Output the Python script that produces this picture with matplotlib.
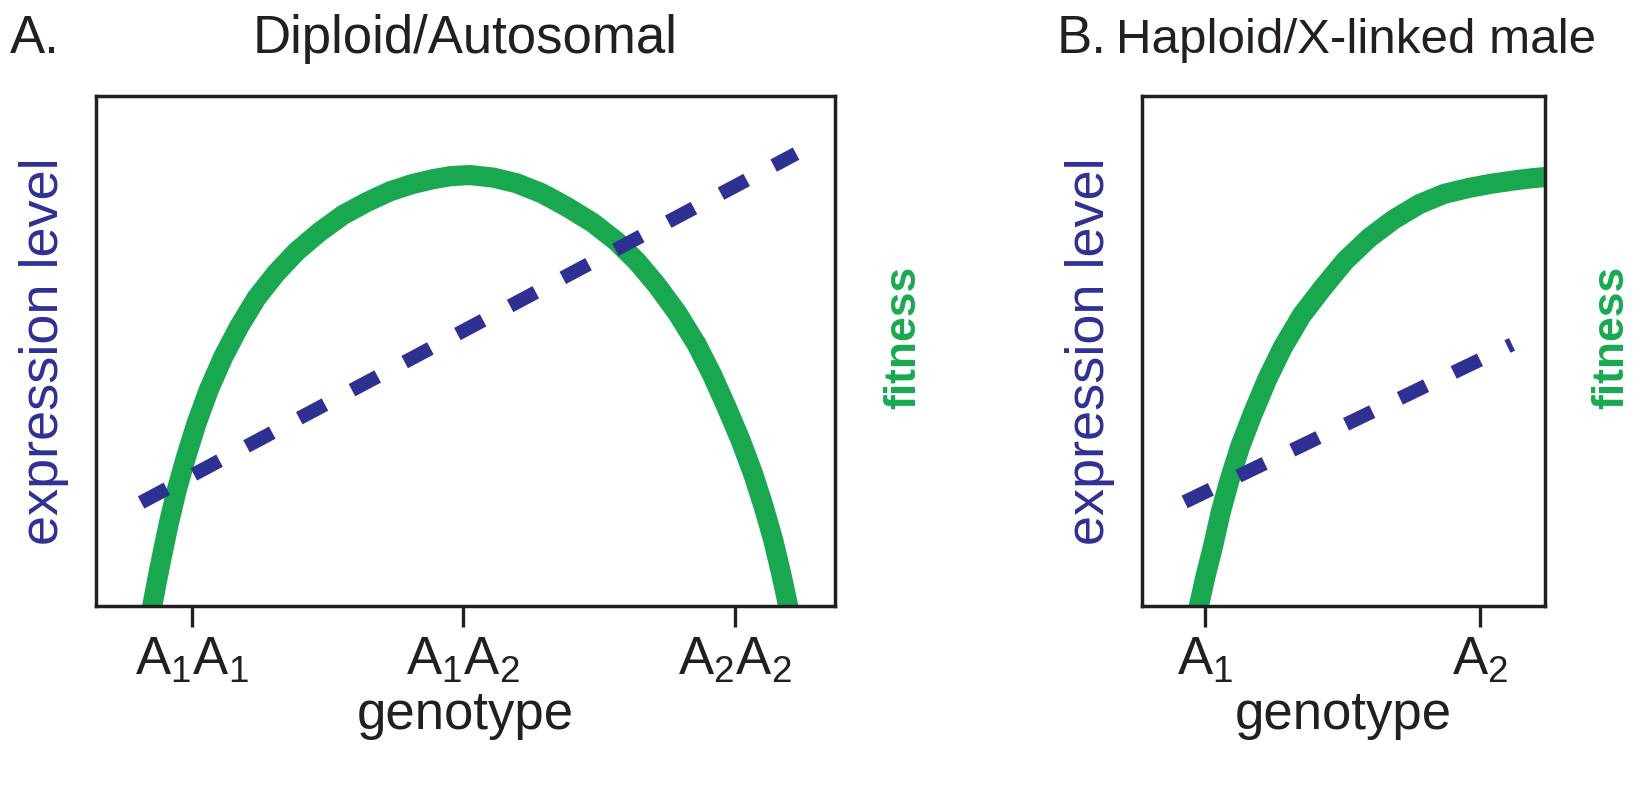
import matplotlib
matplotlib.use('Agg')
import matplotlib.pyplot as plt

# genotype positions: 0 = A1A1 / A1, 1 = A1A2 / A2, 2 = A2A2
ticks_a = [0, 1, 2]
labels_a = [r'$\mathregular{A_1A_1}$', r'$\mathregular{A_1A_2}$', r'$\mathregular{A_2A_2}$']
ticks_b = [0, 1]
labels_b = [r'$\mathregular{A_1}$', r'$\mathregular{A_2}$']

# panel A, fitness curve
fit_a_x = [-0.150, -0.145, -0.128, -0.110, -0.084, -0.055, -0.020, 0.018, 0.064, 0.116,
           0.175, 0.239, 0.310, 0.386, 0.470, 0.558, 0.645, 0.730, 0.810, 0.889,
           0.955, 1.024, 1.110, 1.196, 1.290, 1.380, 1.475, 1.564, 1.640, 1.711,
           1.787, 1.859, 1.917, 1.969, 2.020, 2.067, 2.106, 2.141, 2.170, 2.196, 2.200]
fit_a_y = [-0.030, 0.000, 0.048, 0.096, 0.162, 0.227, 0.293, 0.358, 0.425, 0.488,
           0.548, 0.604, 0.652, 0.695, 0.733, 0.767, 0.792, 0.813, 0.827, 0.837,
           0.843, 0.845, 0.840, 0.829, 0.809, 0.783, 0.752, 0.715, 0.675, 0.630,
           0.575, 0.513, 0.452, 0.390, 0.326, 0.259, 0.194, 0.129, 0.064, 0.000, -0.030]
# panel A, expression level
expr_a_x = [-0.186, 2.225]
expr_a_y = [0.203, 0.887]

# panel B, fitness curve
fit_b_x = [-0.030, -0.024, 0.000, 0.027, 0.055, 0.087, 0.127, 0.172, 0.224, 0.281,
           0.350, 0.427, 0.508, 0.596, 0.685, 0.778, 0.868, 0.960, 1.040, 1.117,
           1.175, 1.233, 1.270]
fit_b_y = [-0.030, 0.000, 0.058, 0.116, 0.183, 0.246, 0.314, 0.377, 0.444, 0.507,
           0.570, 0.624, 0.677, 0.722, 0.758, 0.788, 0.808, 0.820, 0.828, 0.834,
           0.838, 0.841, 0.843]
# panel B, expression level
expr_b_x = [-0.076, 1.115]
expr_b_y = [0.204, 0.513]

GREEN = '#19a84f'
BLUE = '#2e3192'
INK = '#231f20'

plt.rcParams['font.family'] = ['Liberation Sans', 'DejaVu Sans']
plt.rcParams['mathtext.default'] = 'regular'
plt.rcParams['text.color'] = INK

fig = plt.figure(figsize=(16.41, 8), dpi=100)
ax_a = fig.add_axes([0.0585, 0.2425, 0.4503, 0.6375])
ax_b = fig.add_axes([0.6959, 0.2425, 0.2456, 0.6375])


def style_axes(ax, ticks, labels, xlim):
    ax.set_xlim(*xlim)
    ax.set_ylim(0, 1)
    ax.set_yticks([])
    ax.set_xticks(ticks)
    ax.set_xticklabels(labels, fontsize=38, color=INK)
    ax.tick_params(axis='x', direction='out', length=15, width=2.4, color=INK, pad=6)
    for s in ax.spines.values():
        s.set_linewidth(2.5)
        s.set_color(INK)
    ax.text(0.5, -0.241, 'genotype', transform=ax.transAxes, ha='center', va='baseline',
            fontsize=38, color=INK)


def draw_panel(ax, fx, fy, ex, ey):
    ax.plot(fx, fy, color=GREEN, lw=14.5, solid_capstyle='butt', solid_joinstyle='round')
    ax.plot(ex, ey, color=BLUE, lw=10, linestyle=(0, (2.1, 2.2)), dash_capstyle='butt')


draw_panel(ax_a, fit_a_x, fit_a_y, expr_a_x, expr_a_y)
style_axes(ax_a, ticks_a, labels_a, (-0.352, 2.368))
draw_panel(ax_b, fit_b_x, fit_b_y, expr_b_x, expr_b_y)
style_axes(ax_b, ticks_b, labels_b, (-0.231, 1.235))

ax_a.text(-0.071, 0.5, 'expression level', transform=ax_a.transAxes, rotation=90,
          ha='center', va='center', fontsize=39, color=BLUE)
ax_a.text(1.093, 0.526, 'fitness', transform=ax_a.transAxes, rotation=90,
          ha='center', va='center', fontsize=32, fontweight='bold', color=GREEN)
ax_b.text(-0.130, 0.5, 'expression level', transform=ax_b.transAxes, rotation=90,
          ha='center', va='center', fontsize=39, color=BLUE)
ax_b.text(1.166, 0.526, 'fitness', transform=ax_b.transAxes, rotation=90,
          ha='center', va='center', fontsize=32, fontweight='bold', color=GREEN)

fig.text(10 / 1641, 1 - 53 / 800, 'A.', ha='left', va='baseline', fontsize=38)
fig.text(465 / 1641, 1 - 53 / 800, 'Diploid/Autosomal', ha='center', va='baseline', fontsize=38)
fig.text(1057 / 1641, 1 - 53 / 800, 'B.', ha='left', va='baseline', fontsize=38)
fig.text(1116 / 1641, 1 - 53 / 800, 'Haploid/X-linked male', ha='left', va='baseline', fontsize=35.5)

fig.savefig('out.png', dpi=100)
